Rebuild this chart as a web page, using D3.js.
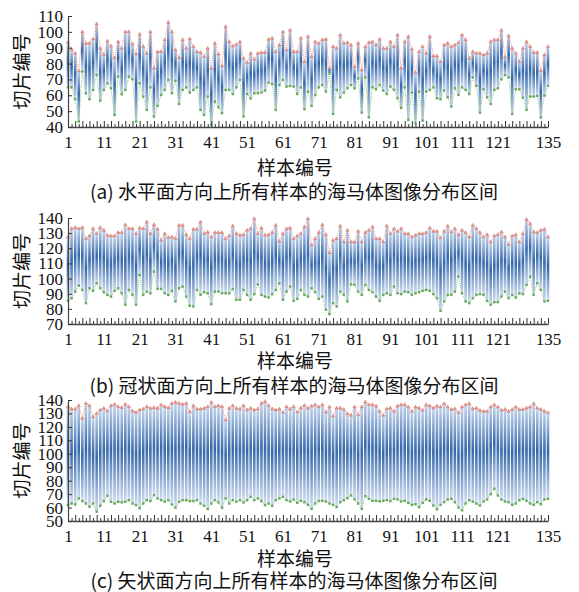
<!DOCTYPE html>
<html>
<head>
<meta charset="utf-8">
<script src="https://cdn.jsdelivr.net/npm/d3@7"></script>
<style>
body{margin:0;background:#fff;}
svg{display:block;}
.tick text{font-family:"Liberation Serif","Times New Roman",serif;font-size:17px;fill:#111;}
.cn{font-family:"Noto Sans CJK SC",sans-serif;fill:#111;}
</style>
</head>
<body>
<svg id="chart" width="579" height="592"></svg>
<script>
// sample numbers 1..135 and the labelled ones on the x axis
const samples=d3.range(1,136);
const xLabels=[1,11,21,31,41,51,61,71,81,91,101,111,121,135];

// (a) horizontal plane: max / min slice per sample
const topA=[93.4,89,86.5,75.3,100,92.8,92.8,95.5,105,89.6,
85.8,94.2,91,83.7,93.8,89.6,100,100,92.4,86,
98.5,90.7,86.5,100,77,87.5,87.5,95,106,100,
88.6,83.7,95,89.6,95.5,90.7,87.5,87,84.4,89.6,
77,92.8,86,78.5,103.3,93.8,91,92,93.8,83.3,
80.6,86.5,82.7,86.5,87,87,95.3,96,87.5,91.7,
100,88.6,101,87.5,87.5,96,81.2,97,84.4,93.8,
92.8,95,95.3,77,90.7,89.6,98,92.8,93.2,91.7,
78,92.8,76,90.7,93.2,93.8,91.7,95.3,89.6,89.6,
93.8,90.7,98,77,93.8,97,89,74.3,87.5,90.7,
86.5,97,84.8,84.8,81.2,91.7,92.8,90.7,91.7,93.2,
98,95,83.3,87.5,86.5,86.5,85.4,86.5,93.8,95,
95,101,84,97.4,89.6,86.5,81.2,89.6,93.8,90.7,
87,87,75.5,85.4,90.7];
const botA=[65,65,57.5,43.4,75,61.3,57.5,63.4,72.8,56.6,
63.4,67.6,64.4,47.6,71.8,60.6,63.4,71.8,70.1,43.4,
67.6,59.2,50.8,65,46.6,53.3,60.2,63.4,69.7,61.3,
69.2,54.5,63.4,65,61.7,63.4,65,50.8,47.6,59.2,
41.3,56,52.4,48.7,63.4,63.4,60.8,65,69.7,46.6,
60.8,58,61.3,61.3,61.7,63,68,67.1,50.8,66.5,
69.7,65.5,65.9,65.5,60.8,65,51.2,62.3,53.3,60.2,
65,66.5,62.3,73.9,48.2,63.4,58.7,61.7,64.4,66.5,
64.4,70.7,49.1,71.3,46.1,65,63.8,66.5,63,60.8,
65.5,63.4,58.1,52,65,44.5,61.7,42.4,62.3,44,
62.3,63.4,65,58.1,57.5,63,58.7,52.9,64.4,60.2,
65,63.4,60.8,71.3,65.9,49.1,63.8,58.7,54.5,63.4,
64.4,70.1,72.8,71.3,48.2,63.8,63.8,58.5,50.8,59.2,
59.2,59.6,46,59.8,65.9];

// (b) coronal plane
const topB=[127.5,133,133.7,133,133.7,126.4,128.2,133,129.7,133.7,
131.9,128.6,128.2,128.2,130.4,130.4,135.6,133,133,129.7,
133.4,133,137.4,129.7,135.6,132.6,125.3,129.7,127.1,127.5,
126.4,135.2,135.2,129,126.4,132.6,132.6,137.4,129.7,130.8,
127.5,130.4,130.4,130.4,126.4,128.2,134.7,129.7,128.6,129,
131.9,133,139.5,129.7,133.4,128.6,129,130.4,135.2,124.7,
129.7,133,133.4,126.4,128.2,129.7,134.1,139.6,122.1,126.4,
130.4,135.6,129,117.2,125.3,126.4,134.7,124.2,131.9,124.2,
124.2,131.2,124.2,130.4,131.9,134.1,126.4,126.4,124.2,134.7,
129.7,133,131.2,133,129.7,129.7,127.5,128.6,129.7,129.7,
130.4,133.4,131.2,131.2,126.9,131.2,134.7,130.8,133,129,
131.9,130.4,127.5,135.2,133,130.4,127.5,129,124.2,128.2,
129,130.8,127.5,122.5,128.2,129,124.2,129.7,139.1,136.3,
130.8,130.4,131.9,132.6,127.5];
const botB=[85.3,87,91.4,95.4,92.5,83.8,93.6,91.9,96.9,93.6,
91,89.2,88.1,91.9,93.6,90.3,82.7,92.5,89.2,82.7,
102.4,89.2,91.4,90.3,104.6,93.2,93.2,90.3,89.2,91.9,
84.9,93.6,94.7,88.1,82,81.6,92.5,89.2,91,90.3,
83.1,91.4,91.4,90.3,90.3,90.3,93,86,86,92.5,
89.2,86,89.7,96.2,89.2,88.1,87.5,89.7,92.5,96.9,
86,91.4,94.7,85.3,86.6,92.5,89.2,88.1,93.6,91,
86.6,88.1,79.4,76.5,83.8,81.6,91.4,89.2,84.9,96.2,
95.8,91.4,89.2,95.8,92.5,91,88.1,85.3,89.2,90.3,
89.2,94.7,90.3,89.7,91.4,91,89.2,90.3,91,91.9,
92.5,91.9,89.7,87,78.7,84.9,89.2,89.2,91.4,101.3,
90.3,84.9,83.8,87,89.2,89.7,89.2,85.3,82.7,84.4,
84.4,88.1,91.4,87,89.2,87.5,90.3,89.7,95.8,101.3,
89.2,96.9,92.5,84.9,85.3];

// (c) sagittal plane
const topC=[135,133.3,133.3,135.8,126.4,137.5,135.8,127.6,130,132.6,
133.8,131.8,135.8,136.8,135,134.3,136.8,135,131.8,130.8,
132.6,133.3,135,133.8,134.3,133.8,136.3,135,134.3,137.5,
138.3,137.5,136.8,137.5,131.3,135.8,133.3,133.3,133.8,135,
138.3,135,135.8,135,125.1,133.8,135.8,133.8,133.3,135.8,
132.6,133.8,132.6,133.3,137.5,138.8,135.8,133.3,132.6,133.3,
130.8,135,133.3,135,131,134,136,133.8,135.5,136.5,
134.8,136.5,131,134.8,128,134,134,133,129.8,128.6,
134.8,129,134.8,138.5,136.5,136.5,135.5,131.6,128.6,133.5,
134,131.6,135.5,136.5,136.5,134.8,131.6,134.8,134,132.3,
136.5,135.5,134,135.5,134.8,137.3,134.8,133,133.5,130.6,
134.8,136.5,137.3,133.5,134,132.3,131.6,131.6,134.8,136.5,
134.8,132.3,133,131.6,133,134.8,133,133,134,134.8,
137.3,134,133,131.6,130.6];
const botC=[61.8,63,62.3,66.8,64.8,63,60.6,63,56.9,61.3,
64.8,68.8,64.3,63,64.3,63.8,64.3,65.5,63,61.8,
59.4,63,65.5,64.8,69.3,66.8,65.5,64.3,65.5,62.3,
59.9,64.3,65.5,65.5,64.8,64.8,65.5,63,61.3,58.9,
63,65.5,63.8,59.9,66.8,63,65.5,64.3,65.5,63.8,
65.5,68,65.5,66.8,64.8,61.8,63,61.3,65.5,66.8,
68,65.5,64.5,66,63.5,65,64,62,59,63,
64.8,65,64.5,63,62,60.3,64,65.5,67,69,
66,63,59,68.5,66.5,65,65,64.6,65,65.5,
64.8,66.5,66,64.5,65,63.5,62,62.5,60.3,63.5,
66,65,61.5,58.6,62,64,66,66.5,64,60,
57.9,63,65.5,64.5,63,61.5,64.5,66,70,74,
69,66,64.5,64,62,63,65.5,66.5,65,63,
62,64,62.5,66,66.5];

const yTicksA=d3.range(40,111,10);
const yTicksB=d3.range(70,141,10);
const yTicksC=d3.range(50,141,10);

const panels=[
  {top:topA,bot:botA,ticks:yTicksA,y0:127,y1:16,cap:"(a) 水平面方向上所有样本的海马体图像分布区间",title:166,capY:190},
  {top:topB,bot:botB,ticks:yTicksB,y0:324,y1:218,cap:"(b) 冠状面方向上所有样本的海马体图像分布区间",title:359,capY:384},
  {top:topC,bot:botC,ticks:yTicksC,y0:521,y1:400,cap:"(c) 矢状面方向上所有样本的海马体图像分布区间",title:557,capY:579}
];

const svg=d3.select('#chart');
const x=d3.scaleLinear().domain([1,135]).range([68,548]);
const barW=2.6;

const grad=svg.append('defs').append('linearGradient').attr('id','barGrad')
.attr('x1',0).attr('y1',0).attr('x2',0).attr('y2',1);
grad.append('stop').attr('offset','0%').attr('stop-color','#c4d5ec');
grad.append('stop').attr('offset','45%').attr('stop-color','#3468ab');
grad.append('stop').attr('offset','100%').attr('stop-color','#d2def0');

panels.forEach(p=>{
  const y=d3.scaleLinear().domain([p.ticks[0],p.ticks[p.ticks.length-1]]).range([p.y0,p.y1]);
  const g=svg.append('g');

  g.selectAll('rect.bar').data(samples).join('rect').attr('class','bar')
  .attr('x',d=>x(d)-barW/2).attr('width',barW)
  .attr('y',d=>y(p.top[d-1])).attr('height',d=>y(p.bot[d-1])-y(p.top[d-1]))
  .attr('fill','url(#barGrad)');

  const lineTop=d3.line().x(d=>x(d)).y(d=>y(p.top[d-1]));
  const lineBot=d3.line().x(d=>x(d)).y(d=>y(p.bot[d-1]));
  g.append('path').attr('d',lineTop(samples)).attr('fill','none')
  .attr('stroke','#f0907c').attr('stroke-width',1).attr('stroke-dasharray','1,1.2');
  g.append('path').attr('d',lineBot(samples)).attr('fill','none')
  .attr('stroke','#8cc47a').attr('stroke-width',1).attr('stroke-dasharray','1,1.2');

  g.selectAll('path.tri').data(samples).join('path').attr('class','tri')
  .attr('d',d3.symbol(d3.symbolTriangle).size(5))
  .attr('transform',d=>'translate('+x(d)+','+y(p.top[d-1])+')')
  .attr('fill','#e89a90').attr('stroke','#cf6a60').attr('stroke-width',0.4);
  g.selectAll('rect.sq').data(samples).join('rect').attr('class','sq')
  .attr('x',d=>x(d)-1.2).attr('y',d=>y(p.bot[d-1])-1.2).attr('width',2.4).attr('height',2.4)
  .attr('fill','#66aa58');

  // axes
  const xAxis=d3.axisBottom(x).tickValues(samples).tickSize(-5).tickSizeOuter(0).tickPadding(9)
  .tickFormat(d=>xLabels.includes(d)?d:'');
  const gx=g.append('g').attr('transform','translate(0,'+p.y0+')').call(xAxis);
  gx.selectAll('.tick line').attr('y2',d=>d%2==1?-6:-3).attr('stroke','#333');
  gx.selectAll('.tick text').filter(d=>!xLabels.includes(d)).remove();
  gx.select('.domain').attr('stroke','#444').attr('stroke-width',1.3);

  const yAxis=d3.axisLeft(y).tickValues(p.ticks).tickSize(-4).tickSizeOuter(0).tickPadding(5);
  const gy=g.append('g').attr('transform','translate(68,0)').call(yAxis);
  gy.selectAll('.tick line').attr('stroke','#333');
  gy.select('.domain').attr('stroke','#444').attr('stroke-width',1.2);

  g.append('text').attr('class','cn').attr('transform','translate(20,'+((p.y0+p.y1)/2)+') rotate(-90)')
  .attr('text-anchor','middle').attr('dominant-baseline','central').style('font-size','19px').text('切片编号');
  g.append('text').attr('class','cn').attr('x',295).attr('y',p.title)
  .attr('text-anchor','middle').attr('dominant-baseline','central').style('font-size','19px').text('样本编号');
  g.append('text').attr('class','cn').attr('x',294).attr('y',p.capY)
  .attr('text-anchor','middle').attr('dominant-baseline','central').style('font-size','19px').text(p.cap);
});
</script>
</body>
</html>
